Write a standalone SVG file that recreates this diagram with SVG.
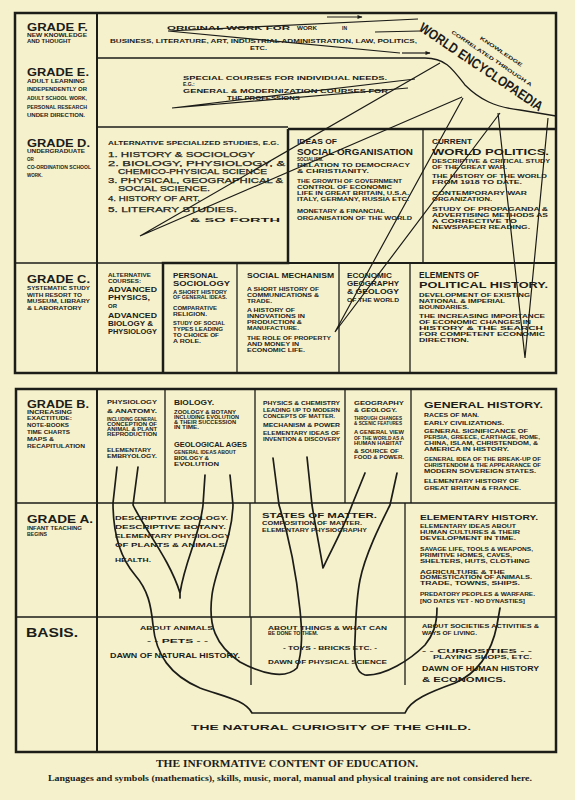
<svg xmlns="http://www.w3.org/2000/svg" width="575" height="800" viewBox="0 0 575 800">
<defs>
<style>
text{font-family:"Liberation Sans","DejaVu Sans",sans-serif;font-weight:bold;fill:#1c1c18}
.g{font-size:11px}
.t4{font-size:4.5px}
.t5{font-size:5px}
.t6{font-size:6px}
.t7{font-size:7px}
.t8{font-size:8px}
.t9{font-size:9px}
.li{font-size:8px;font-weight:normal;stroke:#1c1c18;stroke-width:0.25}
.cap{font-family:"Liberation Serif","DejaVu Serif",serif}
.fr{fill:none;stroke:#1c1c18;stroke-width:2.5}
.ln{fill:none;stroke:#1c1c18;stroke-width:1.3}
.lk{fill:none;stroke:#1c1c18;stroke-width:2}
.ray{fill:none;stroke:#1c1c18;stroke-width:1.2}
.root{fill:none;stroke:#1c1c18;stroke-width:1.7;stroke-linecap:round;stroke-linejoin:round}
</style>
<marker id="ah" viewBox="0 0 10 10" refX="9" refY="5" markerWidth="6" markerHeight="5" orient="auto" markerUnits="userSpaceOnUse">
<path d="M0,1 L10,5 L0,9 Z" fill="#1c1c18"/>
</marker>
</defs>
<rect width="575" height="800" fill="#f5f1cd"/>

<g id="frames">
<rect x="15" y="13" width="541" height="360" class="fr"/>
<path class="lk" d="M97,13 V373"/>
<path class="ln" d="M97,58 H425 C445,58 452,68 465,85 C480,100 495,107 520,110 L556,116"/>
<path class="ln" d="M97,127 H288"/>
<path class="fr" d="M288,129 H556 M288,129 V263 H163 V373"/>
<path class="ln" d="M15,263 H163"/>
<path class="lk" d="M288,263 H556"/>
<path class="ln" d="M423,129 V263 M237,263 V373 M339,263 V373 M410,263 V373"/>
<rect x="16" y="389" width="540" height="363" class="fr"/>
<path class="lk" d="M97,389 V752"/>
<path class="ln" d="M16,503 H556 M16,617 H556"/>
<path class="ln" d="M165,389 V503 M255,389 V503 M345,389 V503 M411,389 V503"/>
<path class="ln" d="M250,503 V617 M405,503 V617 M251,617 V685 M405,617 V685"/>
</g>

<g id="connectors">
<path class="ray" d="M168,31 L418,19 M168,31 L400,53"/>
<path class="ray" d="M402,53 L430,53" marker-end="url(#ah)"/>
<path class="ray" d="M327,17 L362,17" marker-end="url(#ah)"/>
<path class="ray" d="M375,32 L420,31"/>
<path class="ray" d="M172,108 L415,79 M172,108 L408,88"/>
<path class="ray" d="M140,236 L440,63 M140,236 L462,97"/>
<path class="ray" d="M335,332 L463,98 M335,332 L500,113"/>
<path class="ray" d="M525,358 L498,113 M525,358 L548,118"/>
<path class="root" d="M117,467 L113,503 C113,530 118,555 135,575 C148,590 151,605 153,625 C156,655 170,675 200,688 C225,697 245,700 252,713 L405,713 C410,700 430,692 455,683 C480,672 492,650 497,625 L500,608"/>
<path class="root" d="M138,467 L133,505 C145,530 170,560 180,593 L180,598 M180,593 C185,560 200,535 203,505 L205,475"/>
<path class="root" d="M230,475 L233,505 C232,540 215,570 212,595 C208,625 215,645 240,662 C260,673 285,680 297,668 C303,650 302,630 300,610 C297,580 290,540 279,505 L273,458"/>
<path class="root" d="M307,457 L312,505 C316,530 320,550 323,568 C330,552 343,530 352,505 L365,473"/>
<path class="root" d="M397,473 L390,505 C380,525 365,555 360,580 C356,600 356,615 355,640 C354,660 355,672 365,675 C385,676 410,660 425,645 C433,635 437,625 437,608"/>
</g>

<g id="world-encyclopaedia" transform="translate(418,30) rotate(34)">
<text x="0" y="0" style="font-size:14px" textLength="146" lengthAdjust="spacingAndGlyphs">WORLD ENCYCLOPAEDIA</text>
<text x="29" y="-16" class="t5" textLength="96" lengthAdjust="spacingAndGlyphs">CORRELATED THROUGH A</text>
<text x="56" y="-27" class="t5" textLength="50" lengthAdjust="spacingAndGlyphs">KNOWLEDGE</text>
</g>

<g id="grade-f">
<text x="27" y="31" class="g" textLength="61" lengthAdjust="spacingAndGlyphs">GRADE F.</text>
<text x="27" y="37" class="t4" textLength="60" lengthAdjust="spacingAndGlyphs">NEW KNOWLEDGE</text>
<text x="27" y="43" class="t4" textLength="44" lengthAdjust="spacingAndGlyphs">AND THOUGHT</text>
<text x="167" y="30" class="t5" textLength="123" lengthAdjust="spacingAndGlyphs">ORIGINAL  WORK  FOR</text>
<text x="297" y="30" class="t5" textLength="20" lengthAdjust="spacingAndGlyphs">WORK</text>
<text x="342" y="30" class="t5">IN</text>
<text x="110" y="43" class="t5" textLength="307" lengthAdjust="spacingAndGlyphs">BUSINESS, LITERATURE, ART, INDUSTRIAL ADMINISTRATION, LAW, POLITICS,</text>
<text x="250" y="50" class="t5" textLength="17" lengthAdjust="spacingAndGlyphs">ETC.</text>
</g>

<g id="grade-e">
<text x="27" y="76" class="g" textLength="62" lengthAdjust="spacingAndGlyphs">GRADE E.</text>
<text x="27" y="83" class="t4" textLength="58" lengthAdjust="spacingAndGlyphs">ADULT LEARNING</text>
<text x="27" y="91" class="t4" textLength="60" lengthAdjust="spacingAndGlyphs">INDEPENDENTLY OR</text>
<text x="27" y="100" class="t4" textLength="60" lengthAdjust="spacingAndGlyphs">ADULT SCHOOL WORK,</text>
<text x="27" y="109" class="t4" textLength="60" lengthAdjust="spacingAndGlyphs">PERSONAL RESEARCH</text>
<text x="27" y="117" class="t4" textLength="58" lengthAdjust="spacingAndGlyphs">UNDER DIRECTION.</text>
<text x="183" y="80" class="t5" textLength="204" lengthAdjust="spacingAndGlyphs">SPECIAL COURSES FOR INDIVIDUAL NEEDS.</text>
<text x="183" y="86" class="t5">E.G.:</text>
<text x="183" y="93" class="t5" textLength="205" lengthAdjust="spacingAndGlyphs">GENERAL &amp; MODERNIZATION COURSES FOR</text>
<text x="227" y="100" class="t5" textLength="73" lengthAdjust="spacingAndGlyphs">THE PROFESSIONS</text>
</g>

<g id="grade-d">
<text x="27" y="147" class="g" textLength="63" lengthAdjust="spacingAndGlyphs">GRADE D.</text>
<text x="27" y="153" class="t4" textLength="58" lengthAdjust="spacingAndGlyphs">UNDERGRADUATE</text>
<text x="27" y="161" class="t4">OR</text>
<text x="27" y="169" class="t4" textLength="64" lengthAdjust="spacingAndGlyphs">CO-ORDINATION SCHOOL</text>
<text x="27" y="177" class="t4">WORK.</text>
<text x="108" y="145" class="t5" textLength="171" lengthAdjust="spacingAndGlyphs">ALTERNATIVE SPECIALIZED STUDIES, E.G.</text>
<text x="108" y="157" class="li" textLength="147" lengthAdjust="spacingAndGlyphs">1. HISTORY &amp; SOCIOLOGY</text>
<text x="108" y="165.5" class="li" textLength="177" lengthAdjust="spacingAndGlyphs">2. BIOLOGY, PHYSIOLOGY, &amp;</text>
<text x="118" y="173.5" class="li" textLength="149" lengthAdjust="spacingAndGlyphs">CHEMICO-PHYSICAL SCIENCE</text>
<text x="108" y="183" class="li" textLength="175" lengthAdjust="spacingAndGlyphs">3. PHYSICAL, GEOGRAPHICAL &amp;</text>
<text x="118" y="191" class="li" textLength="92" lengthAdjust="spacingAndGlyphs">SOCIAL SCIENCE.</text>
<text x="108" y="201" class="li" textLength="92" lengthAdjust="spacingAndGlyphs">4. HISTORY OF ART.</text>
<text x="108" y="212" class="li" textLength="129" lengthAdjust="spacingAndGlyphs">5. LITERARY STUDIES.</text>
<text x="190" y="222" class="t5" textLength="90" lengthAdjust="spacingAndGlyphs">&amp;   SO   FORTH</text>
</g>

<g id="social-organisation">
<text x="297" y="144" class="t7" textLength="40" lengthAdjust="spacingAndGlyphs">IDEAS OF</text>
<text x="297" y="155" style="font-size:8.5px" textLength="116" lengthAdjust="spacingAndGlyphs">SOCIAL ORGANISATION</text>
<text x="297" y="161" class="t4">SOCIALISM.</text>
<text x="297" y="167" class="t4" textLength="113" lengthAdjust="spacingAndGlyphs">RELATION TO DEMOCRACY</text>
<text x="297" y="173" class="t4" textLength="72" lengthAdjust="spacingAndGlyphs">&amp; CHRISTIANITY.</text>
<text x="297" y="183" class="t4" textLength="105" lengthAdjust="spacingAndGlyphs">THE GROWTH OF GOVERNMENT</text>
<text x="297" y="189" class="t4" textLength="95" lengthAdjust="spacingAndGlyphs">CONTROL OF ECONOMIC</text>
<text x="297" y="195" class="t4" textLength="112" lengthAdjust="spacingAndGlyphs">LIFE IN GREAT BRITAIN, U.S.A.</text>
<text x="297" y="201" class="t4" textLength="112" lengthAdjust="spacingAndGlyphs">ITALY, GERMANY, RUSSIA ETC.</text>
<text x="297" y="213" class="t4" textLength="88" lengthAdjust="spacingAndGlyphs">MONETARY &amp; FINANCIAL</text>
<text x="297" y="220" class="t4" textLength="115" lengthAdjust="spacingAndGlyphs">ORGANISATION OF THE WORLD</text>
</g>

<g id="world-politics">
<text x="432" y="144" class="t7" textLength="40" lengthAdjust="spacingAndGlyphs">CURRENT</text>
<text x="432" y="155" style="font-size:8.5px" textLength="117" lengthAdjust="spacingAndGlyphs">WORLD POLITICS.</text>
<text x="432" y="163" class="t4" textLength="118" lengthAdjust="spacingAndGlyphs">DESCRIPTIVE &amp; CRITICAL STUDY</text>
<text x="432" y="169" class="t4" textLength="75" lengthAdjust="spacingAndGlyphs">OF THE GREAT WAR.</text>
<text x="432" y="178" class="t4" textLength="115" lengthAdjust="spacingAndGlyphs">THE HISTORY OF THE WORLD</text>
<text x="432" y="184" class="t4" textLength="90" lengthAdjust="spacingAndGlyphs">FROM 1918 TO DATE.</text>
<text x="432" y="195" class="t4" textLength="95" lengthAdjust="spacingAndGlyphs">CONTEMPORARY WAR</text>
<text x="432" y="201" class="t4" textLength="60" lengthAdjust="spacingAndGlyphs">ORGANIZATION.</text>
<text x="432" y="211" class="t4" textLength="116" lengthAdjust="spacingAndGlyphs">STUDY OF PROPAGANDA &amp;</text>
<text x="432" y="217" class="t4" textLength="116" lengthAdjust="spacingAndGlyphs">ADVERTISING METHODS AS</text>
<text x="432" y="223" class="t4" textLength="85" lengthAdjust="spacingAndGlyphs">A CORRECTIVE TO</text>
<text x="432" y="229" class="t4" textLength="98" lengthAdjust="spacingAndGlyphs">NEWSPAPER READING.</text>
</g>

<g id="grade-c">
<text x="27" y="283" class="g" textLength="63" lengthAdjust="spacingAndGlyphs">GRADE C.</text>
<text x="27" y="290" class="t4" textLength="63" lengthAdjust="spacingAndGlyphs">SYSTEMATIC STUDY</text>
<text x="27" y="297" class="t4" textLength="55" lengthAdjust="spacingAndGlyphs">WITH RESORT TO</text>
<text x="27" y="303" class="t4" textLength="63" lengthAdjust="spacingAndGlyphs">MUSEUM, LIBRARY</text>
<text x="27" y="310" class="t4" textLength="55" lengthAdjust="spacingAndGlyphs">&amp; LABORATORY</text>
</g>

<g id="alternative-courses">
<text x="108" y="277" class="t4" textLength="43" lengthAdjust="spacingAndGlyphs">ALTERNATIVE</text>
<text x="108" y="283" class="t4" textLength="33" lengthAdjust="spacingAndGlyphs">COURSES:</text>
<text x="108" y="292" class="t8" textLength="49" lengthAdjust="spacingAndGlyphs">ADVANCED</text>
<text x="108" y="300" class="t8" textLength="42" lengthAdjust="spacingAndGlyphs">PHYSICS,</text>
<text x="108" y="308" class="t6">OR</text>
<text x="108" y="318" class="t8" textLength="49" lengthAdjust="spacingAndGlyphs">ADVANCED</text>
<text x="108" y="326" class="t8" textLength="45" lengthAdjust="spacingAndGlyphs">BIOLOGY &amp;</text>
<text x="108" y="334" class="t8" textLength="49" lengthAdjust="spacingAndGlyphs">PHYSIOLOGY</text>
</g>

<g id="personal-sociology">
<text x="173" y="278" class="t8" textLength="45" lengthAdjust="spacingAndGlyphs">PERSONAL</text>
<text x="173" y="286" class="t8" textLength="57" lengthAdjust="spacingAndGlyphs">SOCIOLOGY</text>
<text x="173" y="294" class="t4" textLength="54" lengthAdjust="spacingAndGlyphs">A SHORT HISTORY</text>
<text x="173" y="299" class="t4" textLength="54" lengthAdjust="spacingAndGlyphs">OF GENERAL IDEAS.</text>
<text x="173" y="310" class="t4" textLength="44" lengthAdjust="spacingAndGlyphs">COMPARATIVE</text>
<text x="173" y="316" class="t4" textLength="34" lengthAdjust="spacingAndGlyphs">RELIGION.</text>
<text x="173" y="325" class="t4" textLength="52" lengthAdjust="spacingAndGlyphs">STUDY OF SOCIAL</text>
<text x="173" y="331" class="t4" textLength="50" lengthAdjust="spacingAndGlyphs">TYPES LEADING</text>
<text x="173" y="337" class="t4" textLength="46" lengthAdjust="spacingAndGlyphs">TO CHOICE OF</text>
<text x="173" y="343" class="t4" textLength="28" lengthAdjust="spacingAndGlyphs">A ROLE.</text>
</g>

<g id="social-mechanism">
<text x="247" y="278" class="t8" textLength="87" lengthAdjust="spacingAndGlyphs">SOCIAL MECHANISM</text>
<text x="247" y="291" class="t4" textLength="72" lengthAdjust="spacingAndGlyphs">A SHORT HISTORY OF</text>
<text x="247" y="297" class="t4" textLength="72" lengthAdjust="spacingAndGlyphs">COMMUNICATIONS &amp;</text>
<text x="247" y="303" class="t4" textLength="25" lengthAdjust="spacingAndGlyphs">TRADE.</text>
<text x="247" y="312" class="t4" textLength="48" lengthAdjust="spacingAndGlyphs">A HISTORY OF</text>
<text x="247" y="318" class="t4" textLength="58" lengthAdjust="spacingAndGlyphs">INNOVATIONS IN</text>
<text x="247" y="324" class="t4" textLength="55" lengthAdjust="spacingAndGlyphs">PRODUCTION &amp;</text>
<text x="247" y="330" class="t4" textLength="52" lengthAdjust="spacingAndGlyphs">MANUFACTURE.</text>
<text x="247" y="340" class="t4" textLength="84" lengthAdjust="spacingAndGlyphs">THE ROLE OF PROPERTY</text>
<text x="247" y="346" class="t4" textLength="52" lengthAdjust="spacingAndGlyphs">AND MONEY IN</text>
<text x="247" y="352" class="t4" textLength="58" lengthAdjust="spacingAndGlyphs">ECONOMIC LIFE.</text>
</g>

<g id="economic-geography">
<text x="347" y="278" class="t8" textLength="45" lengthAdjust="spacingAndGlyphs">ECONOMIC</text>
<text x="347" y="286" class="t8" textLength="52" lengthAdjust="spacingAndGlyphs">GEOGRAPHY</text>
<text x="347" y="294" class="t8" textLength="52" lengthAdjust="spacingAndGlyphs">&amp; GEOLOGY</text>
<text x="347" y="302" class="t6" textLength="52" lengthAdjust="spacingAndGlyphs">OF THE WORLD</text>
</g>

<g id="political-history">
<text x="419" y="278" class="t9" textLength="60" lengthAdjust="spacingAndGlyphs">ELEMENTS OF</text>
<text x="419" y="288" class="t9" textLength="129" lengthAdjust="spacingAndGlyphs">POLITICAL   HISTORY.</text>
<text x="419" y="297" class="t4" textLength="111" lengthAdjust="spacingAndGlyphs">DEVELOPMENT OF EXISTING</text>
<text x="419" y="303" class="t4" textLength="86" lengthAdjust="spacingAndGlyphs">NATIONAL &amp; IMPERIAL</text>
<text x="419" y="309" class="t4" textLength="50" lengthAdjust="spacingAndGlyphs">BOUNDARIES.</text>
<text x="419" y="318" class="t4" textLength="126" lengthAdjust="spacingAndGlyphs">THE INCREASING IMPORTANCE</text>
<text x="419" y="324" class="t4" textLength="112" lengthAdjust="spacingAndGlyphs">OF ECONOMIC CHANGES IN</text>
<text x="419" y="330" class="t4" textLength="124" lengthAdjust="spacingAndGlyphs">HISTORY &amp; THE SEARCH</text>
<text x="419" y="336" class="t4" textLength="126" lengthAdjust="spacingAndGlyphs">FOR COMPETENT ECONOMIC</text>
<text x="419" y="342" class="t4" textLength="50" lengthAdjust="spacingAndGlyphs">DIRECTION.</text>
</g>

<g id="grade-b">
<text x="27" y="408" class="g" textLength="62" lengthAdjust="spacingAndGlyphs">GRADE B.</text>
<text x="27" y="414" class="t4" textLength="45" lengthAdjust="spacingAndGlyphs">INCREASING</text>
<text x="27" y="420" class="t4" textLength="45" lengthAdjust="spacingAndGlyphs">EXACTITUDE:</text>
<text x="27" y="427" class="t4" textLength="42" lengthAdjust="spacingAndGlyphs">NOTE-BOOKS</text>
<text x="27" y="434" class="t4" textLength="43" lengthAdjust="spacingAndGlyphs">TIME CHARTS</text>
<text x="27" y="441" class="t4" textLength="27" lengthAdjust="spacingAndGlyphs">MAPS &amp;</text>
<text x="27" y="448" class="t4" textLength="58" lengthAdjust="spacingAndGlyphs">RECAPITULATION</text>
</g>

<g id="physiology-anatomy">
<text x="107" y="404" class="t6" textLength="50" lengthAdjust="spacingAndGlyphs">PHYSIOLOGY</text>
<text x="107" y="413" class="t6" textLength="50" lengthAdjust="spacingAndGlyphs">&amp; ANATOMY.</text>
<text x="107" y="421" class="t4" textLength="50" lengthAdjust="spacingAndGlyphs">INCLUDING GENERAL</text>
<text x="107" y="426" class="t4" textLength="50" lengthAdjust="spacingAndGlyphs">CONCEPTION OF</text>
<text x="107" y="431" class="t4" textLength="50" lengthAdjust="spacingAndGlyphs">ANIMAL &amp; PLANT</text>
<text x="107" y="436" class="t4" textLength="50" lengthAdjust="spacingAndGlyphs">REPRODUCTION</text>
<text x="107" y="452" class="t4" textLength="44" lengthAdjust="spacingAndGlyphs">ELEMENTARY</text>
<text x="107" y="458" class="t4" textLength="50" lengthAdjust="spacingAndGlyphs">EMBRYOLOGY.</text>
</g>

<g id="biology">
<text x="174" y="405" class="t7" textLength="40" lengthAdjust="spacingAndGlyphs">BIOLOGY.</text>
<text x="174" y="414" class="t4" textLength="62" lengthAdjust="spacingAndGlyphs">ZOOLOGY &amp; BOTANY</text>
<text x="174" y="419" class="t4" textLength="65" lengthAdjust="spacingAndGlyphs">INCLUDING EVOLUTION</text>
<text x="174" y="424" class="t4" textLength="62" lengthAdjust="spacingAndGlyphs">&amp; THEIR SUCCESSION</text>
<text x="174" y="429" class="t4" textLength="25" lengthAdjust="spacingAndGlyphs">IN TIME.</text>
<text x="174" y="447" class="t7" textLength="73" lengthAdjust="spacingAndGlyphs">GEOLOGICAL AGES</text>
<text x="174" y="454" class="t4" textLength="62" lengthAdjust="spacingAndGlyphs">GENERAL IDEAS ABOUT</text>
<text x="174" y="460" class="t4" textLength="35" lengthAdjust="spacingAndGlyphs">BIOLOGY &amp;</text>
<text x="174" y="466" class="t4" textLength="45" lengthAdjust="spacingAndGlyphs">EVOLUTION</text>
</g>

<g id="physics-chemistry">
<text x="263" y="405" class="t5" textLength="77" lengthAdjust="spacingAndGlyphs">PHYSICS &amp; CHEMISTRY</text>
<text x="263" y="412" class="t4" textLength="77" lengthAdjust="spacingAndGlyphs">LEADING UP TO MODERN</text>
<text x="263" y="418" class="t4" textLength="72" lengthAdjust="spacingAndGlyphs">CONCEPTS OF MATTER.</text>
<text x="263" y="427" class="t5" textLength="77" lengthAdjust="spacingAndGlyphs">MECHANISM &amp; POWER</text>
<text x="263" y="435" class="t4" textLength="77" lengthAdjust="spacingAndGlyphs">ELEMENTARY IDEAS OF</text>
<text x="263" y="441" class="t4" textLength="77" lengthAdjust="spacingAndGlyphs">INVENTION &amp; DISCOVERY</text>
</g>

<g id="geography-geology">
<text x="354" y="405" class="t5" textLength="50" lengthAdjust="spacingAndGlyphs">GEOGRAPHY</text>
<text x="354" y="412" class="t5" textLength="43" lengthAdjust="spacingAndGlyphs">&amp; GEOLOGY.</text>
<text x="354" y="420" class="t4" textLength="48" lengthAdjust="spacingAndGlyphs">THROUGH CHANGES</text>
<text x="354" y="425" class="t4" textLength="48" lengthAdjust="spacingAndGlyphs">&amp; SCENIC FEATURES</text>
<text x="354" y="434" class="t4" textLength="50" lengthAdjust="spacingAndGlyphs">A GENERAL VIEW</text>
<text x="354" y="440" class="t4" textLength="50" lengthAdjust="spacingAndGlyphs">OF THE WORLD AS A</text>
<text x="354" y="445" class="t4" textLength="48" lengthAdjust="spacingAndGlyphs">HUMAN HABITAT</text>
<text x="354" y="453" class="t4" textLength="45" lengthAdjust="spacingAndGlyphs">&amp; SOURCE OF</text>
<text x="354" y="459" class="t4" textLength="50" lengthAdjust="spacingAndGlyphs">FOOD &amp; POWER.</text>
</g>

<g id="general-history">
<text x="424" y="408" class="t9" textLength="119" lengthAdjust="spacingAndGlyphs">GENERAL HISTORY.</text>
<text x="424" y="417" class="t5" textLength="55" lengthAdjust="spacingAndGlyphs">RACES OF MAN.</text>
<text x="424" y="425" class="t5" textLength="80" lengthAdjust="spacingAndGlyphs">EARLY CIVILIZATIONS.</text>
<text x="424" y="433" class="t4" textLength="104" lengthAdjust="spacingAndGlyphs">GENERAL SIGNIFICANCE OF</text>
<text x="424" y="439" class="t4" textLength="116" lengthAdjust="spacingAndGlyphs">PERSIA, GREECE, CARTHAGE, ROME,</text>
<text x="424" y="445" class="t4" textLength="114" lengthAdjust="spacingAndGlyphs">CHINA, ISLAM, CHRISTENDOM, &amp;</text>
<text x="424" y="451" class="t4" textLength="85" lengthAdjust="spacingAndGlyphs">AMERICA IN HISTORY.</text>
<text x="424" y="461" class="t4" textLength="117" lengthAdjust="spacingAndGlyphs">GENERAL IDEA OF THE BREAK-UP OF</text>
<text x="424" y="467" class="t4" textLength="117" lengthAdjust="spacingAndGlyphs">CHRISTENDOM &amp; THE APPEARANCE OF</text>
<text x="424" y="473" class="t4" textLength="112" lengthAdjust="spacingAndGlyphs">MODERN SOVEREIGN STATES.</text>
<text x="424" y="483" class="t4" textLength="95" lengthAdjust="spacingAndGlyphs">ELEMENTARY HISTORY OF</text>
<text x="424" y="490" class="t4" textLength="97" lengthAdjust="spacingAndGlyphs">GREAT BRITAIN &amp; FRANCE.</text>
</g>

<g id="grade-a">
<text x="27" y="523" class="g" textLength="66" lengthAdjust="spacingAndGlyphs">GRADE A.</text>
<text x="27" y="530" class="t4" textLength="55" lengthAdjust="spacingAndGlyphs">INFANT TEACHING</text>
<text x="27" y="536" class="t4" textLength="20" lengthAdjust="spacingAndGlyphs">BEGINS</text>
</g>

<g id="descriptive-zoology">
<text x="115" y="520" class="t6" textLength="113" lengthAdjust="spacingAndGlyphs">DESCRIPTIVE ZOOLOGY.</text>
<text x="115" y="529" class="t6" textLength="111" lengthAdjust="spacingAndGlyphs">DESCRIPTIVE BOTANY.</text>
<text x="115" y="538" class="t6" textLength="115" lengthAdjust="spacingAndGlyphs">ELEMENTARY PHYSIOLOGY</text>
<text x="115" y="547" class="t6" textLength="110" lengthAdjust="spacingAndGlyphs">OF PLANTS &amp; ANIMALS</text>
<text x="115" y="562" class="t6" textLength="36" lengthAdjust="spacingAndGlyphs">HEALTH.</text>
</g>

<g id="states-of-matter">
<text x="262" y="518" class="t7" textLength="115" lengthAdjust="spacingAndGlyphs">STATES OF MATTER.</text>
<text x="262" y="525" class="t4" textLength="100" lengthAdjust="spacingAndGlyphs">COMPOSITION OF MATTER.</text>
<text x="262" y="532" class="t4" textLength="105" lengthAdjust="spacingAndGlyphs">ELEMENTARY PHYSIOGRAPHY</text>
</g>

<g id="elementary-history">
<text x="420" y="520" class="t7" textLength="118" lengthAdjust="spacingAndGlyphs">ELEMENTARY HISTORY.</text>
<text x="420" y="528" class="t4" textLength="96" lengthAdjust="spacingAndGlyphs">ELEMENTARY IDEAS ABOUT</text>
<text x="420" y="534" class="t4" textLength="100" lengthAdjust="spacingAndGlyphs">HUMAN CULTURES &amp; THEIR</text>
<text x="420" y="540" class="t4" textLength="96" lengthAdjust="spacingAndGlyphs">DEVELOPMENT IN TIME.</text>
<text x="420" y="551" class="t4" textLength="113" lengthAdjust="spacingAndGlyphs">SAVAGE LIFE, TOOLS &amp; WEAPONS,</text>
<text x="420" y="557" class="t4" textLength="92" lengthAdjust="spacingAndGlyphs">PRIMITIVE HOMES, CAVES,</text>
<text x="420" y="563" class="t4" textLength="110" lengthAdjust="spacingAndGlyphs">SHELTERS, HUTS, CLOTHING</text>
<text x="420" y="574" class="t4" textLength="85" lengthAdjust="spacingAndGlyphs">AGRICULTURE  &amp;  THE</text>
<text x="420" y="579" class="t4" textLength="112" lengthAdjust="spacingAndGlyphs">DOMESTICATION OF ANIMALS.</text>
<text x="420" y="585" class="t4" textLength="100" lengthAdjust="spacingAndGlyphs">TRADE, TOWNS, SHIPS.</text>
<text x="420" y="596" class="t4" textLength="115" lengthAdjust="spacingAndGlyphs">PREDATORY PEOPLES &amp; WARFARE.</text>
<text x="420" y="603" class="t4" textLength="105" lengthAdjust="spacingAndGlyphs">[NO DATES YET - NO DYNASTIES]</text>
</g>

<g id="basis">
<text x="26" y="637" style="font-size:12px" textLength="52" lengthAdjust="spacingAndGlyphs">BASIS.</text>
</g>

<g id="basis-animals">
<text x="140" y="630" class="t4" textLength="73" lengthAdjust="spacingAndGlyphs">ABOUT   ANIMALS</text>
<text x="147" y="643" class="t5" textLength="61" lengthAdjust="spacingAndGlyphs">- - PETS - -</text>
<text x="110" y="658" class="t7" textLength="130" lengthAdjust="spacingAndGlyphs">DAWN OF NATURAL HISTORY.</text>
</g>

<g id="basis-things">
<text x="268" y="630" class="t4" textLength="119" lengthAdjust="spacingAndGlyphs">ABOUT  THINGS  &amp;  WHAT CAN</text>
<text x="268" y="635" class="t4" textLength="50" lengthAdjust="spacingAndGlyphs">BE DONE TO THEM.</text>
<text x="283" y="650" class="t4" textLength="94" lengthAdjust="spacingAndGlyphs">- TOYS - BRICKS ETC. -</text>
<text x="268" y="664" class="t6" textLength="119" lengthAdjust="spacingAndGlyphs">DAWN OF PHYSICAL SCIENCE</text>
</g>

<g id="basis-societies">
<text x="422" y="628" class="t4" textLength="117" lengthAdjust="spacingAndGlyphs">ABOUT SOCIETIES ACTIVITIES &amp;</text>
<text x="422" y="635" class="t4" textLength="55" lengthAdjust="spacingAndGlyphs">WAYS OF LIVING.</text>
<text x="422" y="653" class="t5" textLength="110" lengthAdjust="spacingAndGlyphs">- - CURIOSITIES - -</text>
<text x="433" y="659" class="t4" textLength="99" lengthAdjust="spacingAndGlyphs">PLAYING SHOPS, ETC.</text>
<text x="422" y="671" class="t7" textLength="117" lengthAdjust="spacingAndGlyphs">DAWN OF HUMAN HISTORY</text>
<text x="422" y="682" class="t7" textLength="84" lengthAdjust="spacingAndGlyphs">&amp; ECONOMICS.</text>
</g>

<g id="natural-curiosity">
<text x="191" y="730" class="t8" textLength="280" lengthAdjust="spacingAndGlyphs">THE  NATURAL  CURIOSITY  OF  THE  CHILD.</text>
</g>

<g id="caption">
<text x="156" y="767" class="cap" style="font-size:9.5px" textLength="262" lengthAdjust="spacingAndGlyphs">THE INFORMATIVE CONTENT OF EDUCATION.</text>
<text x="48" y="781" class="cap" style="font-size:7.5px" textLength="484" lengthAdjust="spacingAndGlyphs">Languages and symbols (mathematics), skills, music, moral, manual and physical training are not considered here.</text>
</g>
</svg>
